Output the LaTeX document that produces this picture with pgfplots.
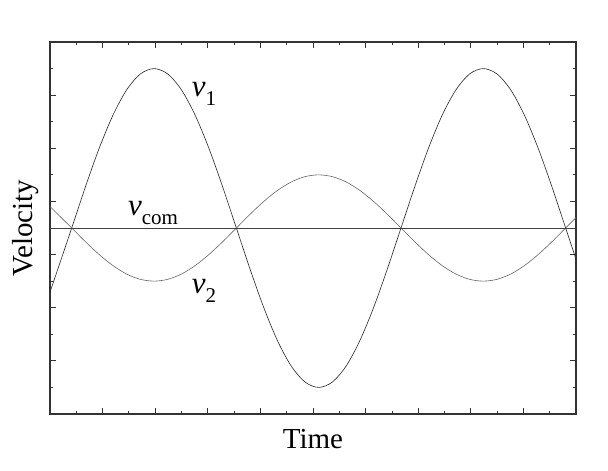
\documentclass[border=0pt]{standalone}
\usepackage{pgfplots}
\pgfplotsset{compat=1.18}
\usepackage{fontspec}
\setmainfont{Liberation Serif}
\newcommand{\vsub}[1]{\textit{v}\raisebox{-0.3em}{\fontsize{21}{21}\selectfont #1}}
\begin{document}
\begin{tikzpicture}
\begin{axis}[
  scale only axis,
  width=526pt, height=372pt,
  xmin=0, xmax=10, ymin=0, ymax=7,
  xtick={0,1,...,10}, ytick={0,1,...,7},
  minor x tick num=1, minor y tick num=1,
  xticklabels={}, yticklabels={},
  tick align=inside,
  major tick length=6pt, minor tick length=3pt,
  tick style={line width=0.8pt, black!80},
  axis line style={line width=1.5pt, black!80},
  xlabel={Time}, ylabel={Velocity},
  label style={font=\fontsize{29}{30}\selectfont},
  xlabel style={at={(axis description cs:0.5,0)}, anchor=north, yshift=-12pt},
  ylabel style={at={(axis description cs:0,0.5)}, anchor=south, yshift=8pt},
  clip=true,
]
\addplot[black!85, line width=0.6pt, smooth] coordinates {
(0,2.292) (0.413,3.5) (0.674,4.276) (0.935,5.0) (1.196,5.621) (1.456,6.098) (1.717,6.398) (1.978,6.5)
(2.239,6.398) (2.500,6.098) (2.760,5.621) (3.021,5.0) (3.282,4.276) (3.543,3.5) (3.804,2.724) (4.065,2.0)
(4.325,1.379) (4.586,0.902) (4.847,0.602) (5.108,0.5) (5.369,0.602) (5.630,0.902) (5.890,1.379) (6.151,2.0)
(6.412,2.724) (6.673,3.5) (6.934,4.276) (7.195,5.0) (7.455,5.621) (7.716,6.098) (7.977,6.398) (8.238,6.5)
(8.499,6.398) (8.760,6.098) (9.020,5.621) (9.281,5.0) (9.542,4.276) (9.803,3.5) (10,2.912)
};
\addplot[black!60, line width=0.6pt, smooth] coordinates {
(0,3.903) (0.413,3.5) (0.674,3.241) (0.935,3.0) (1.196,2.793) (1.456,2.634) (1.717,2.534) (1.978,2.5)
(2.239,2.534) (2.500,2.634) (2.760,2.793) (3.021,3.0) (3.282,3.241) (3.543,3.5) (3.804,3.759) (4.065,4.0)
(4.325,4.207) (4.586,4.366) (4.847,4.466) (5.108,4.5) (5.369,4.466) (5.630,4.366) (5.890,4.207) (6.151,4.0)
(6.412,3.759) (6.673,3.5) (6.934,3.241) (7.195,3.0) (7.455,2.793) (7.716,2.634) (7.977,2.534) (8.238,2.5)
(8.499,2.534) (8.760,2.634) (9.020,2.793) (9.281,3.0) (9.542,3.241) (9.803,3.5) (10,3.696)
};
\addplot[black!75, line width=0.6pt] coordinates {(0,3.5) (10,3.5)};
\node[font=\fontsize{31}{31}\selectfont] at (axis cs:2.93,6.02) {\vsub{1}};
\node[font=\fontsize{31}{31}\selectfont] at (axis cs:1.96,3.78) {\vsub{com}};
\node[font=\fontsize{31}{31}\selectfont] at (axis cs:2.93,2.31) {\vsub{2}};
\end{axis}
\path ([shift={(-50pt,-57pt)}]current axis.south west) rectangle ([shift={(32pt,42pt)}]current axis.north east);
\end{tikzpicture}
\end{document}
